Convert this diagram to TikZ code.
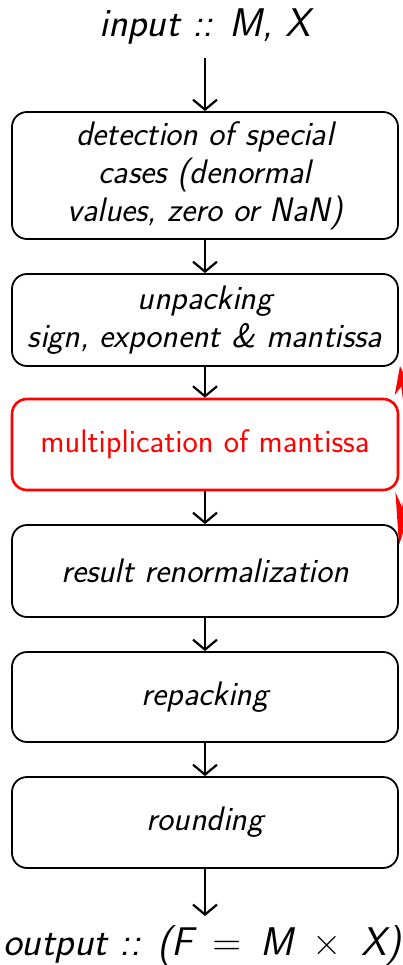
\documentclass[tikz,border=0pt]{standalone}
\usetikzlibrary{arrows.meta}
\begin{document}
\begin{tikzpicture}[x=1pt,y=-1pt,
  box/.style={draw=black, line width=1.8pt, rounded corners=15pt, minimum width=386pt, inner sep=0pt, align=center,
    font=\fontsize{34}{38}\selectfont\sffamily\slshape},
  redbox/.style={draw=red, line width=2.6pt, rounded corners=15pt, minimum width=386pt, inner sep=0pt, align=center,
    text=red, font=\fontsize{32.5}{38}\selectfont\sffamily},
  flow/.style={line width=2.2pt, -{Straight Barb[length=10pt,width=24pt,line width=2.2pt]}},
  lbl/.style={inner sep=0pt, font=\fontsize{40}{44}\selectfont\sffamily\slshape},
  callout/.style={red, line width=3pt}
]
\useasboundingbox (0,0) rectangle (403,965);
\clip (0,0) rectangle (403,965);
\node[lbl, anchor=base] (in) at (205,37) {input :: M, X};
\node[box, minimum height=127pt] (b1) at (205,175.5) {detection of special\\cases (denormal\\values, zero or NaN)};
\node[box, minimum height=92pt] (b2) at (205,320) {unpacking\\sign, exponent \& mantissa};
\node[redbox, minimum height=91pt] (b3) at (205,444.5) {multiplication of mantissa};
\node[box, minimum height=92pt] (b4) at (205,571) {result renormalization};
\node[box, minimum height=90pt] (b5) at (205,697) {repacking};
\node[box, minimum height=91pt] (b6) at (205,822.5) {rounding};
\node[lbl, anchor=base] (out) at (202,955) {output :: (F\, {\upshape =}\, M\, {\upshape ×}\, X)};
\coordinate (inend) at (205,58);
\coordinate (outend) at (205,916);
\draw[flow] (inend) -- (b1.north);
\draw[flow] (b1.south) -- (b2.north);
\draw[flow] (b2.south) -- (b3.north);
\draw[flow] (b3.south) -- (b4.north);
\draw[flow] (b4.south) -- (b5.north);
\draw[flow] (b5.south) -- (b6.north);
\draw[flow] (b6.south) -- (outend);
\coordinate (ua) at (410,441);
\coordinate (ub) at (400,366);
\coordinate (la) at (412,440);
\coordinate (lb) at (399,545);
\draw[callout, -{Stealth[length=28pt,width=18pt]}] (ua) -- (ub);
\draw[callout, -{Stealth[length=52pt,width=20pt]}] (la) -- (lb);
\end{tikzpicture}
\end{document}
